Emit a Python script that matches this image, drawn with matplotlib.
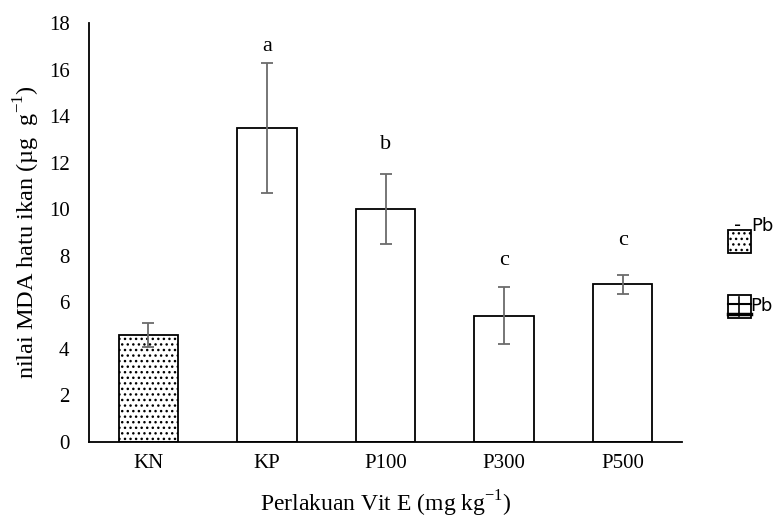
import matplotlib.pyplot as plt
from matplotlib.patches import Rectangle

plt.rcParams['font.family'] = ['Liberation Serif', 'DejaVu Serif']
plt.rcParams['mathtext.fontset'] = 'custom'
plt.rcParams['mathtext.rm'] = 'Liberation Serif'
plt.rcParams['hatch.linewidth'] = 1.0

# data
groups = ['KN', 'KP', 'P100', 'P300', 'P500']
mda = [4.6, 13.5, 10.0, 5.43, 6.77]
err = [0.5, 2.8, 1.5, 1.22, 0.41]
letters = ['', 'a', 'b', 'c', 'c']
letter_y = [0, 17.0, 12.8, 7.8, 8.65]

fig = plt.figure(figsize=(7.79, 5.23), dpi=100)
ax = fig.add_axes([0.1143, 0.1549, 0.7612, 0.8011])

x = list(range(len(groups)))
bars = ax.bar(x, mda, width=0.5, color='white', edgecolor='black', linewidth=1.3, zorder=2)
bars[0].set_hatch('...')
ax.errorbar(x, mda, yerr=err, fmt='none', ecolor='#6b6b6b', elinewidth=1.3,
            capsize=4, capthick=1.3, zorder=3)

for xi, lab, ly in zip(x, letters, letter_y):
    if lab:
        ax.text(xi, ly, lab, ha='center', va='center', fontsize=16)

ax.set_xlim(-0.5, len(groups) - 0.5)
ax.set_ylim(0, 18)
ax.set_yticks(range(0, 19, 2))
ax.set_xticks(x)
ax.set_xticklabels(groups)
ax.tick_params(axis='both', length=0, labelsize=15)
ax.tick_params(axis='y', pad=14)
ax.tick_params(axis='x', pad=9)
for s in ['top', 'right']:
    ax.spines[s].set_visible(False)
for s in ['left', 'bottom']:
    ax.spines[s].set_linewidth(1.3)
    ax.spines[s].set_color('black')

ax.set_xlabel('Perlakuan Vit E (mg kg$^{\\mathregular{-1}}$)', fontsize=17, labelpad=11)
ax.set_ylabel('nilai MDA hatu ikan (µg  g$^{\\mathregular{-1}}$)', fontsize=17.5, labelpad=5)

# legend drawn by hand, like the original
W, H = 779, 523
def box(x0, y0, hatch):
    r = Rectangle((x0 / W, 1 - (y0 + 23) / H), 23 / W, 23 / H, transform=fig.transFigure,
                  facecolor='white', edgecolor='black', linewidth=1.3, hatch=hatch, zorder=1)
    fig.add_artist(r)

box(728, 230, '...')
fig.text(734 / W, 1 - 225 / H, '-', fontsize=14, family='DejaVu Sans', va='center', zorder=5)
fig.text(751 / W, 1 - 226 / H, 'Pb', fontsize=13, family='DejaVu Sans', va='center', zorder=5)
box(728, 295, None)
fig.add_artist(plt.Line2D([728 / W, 751 / W], [1 - 304 / H] * 2, transform=fig.transFigure, color='black', lw=1.5))
fig.add_artist(plt.Line2D([728 / W, 751 / W], [1 - 314 / H] * 2, transform=fig.transFigure, color='black', lw=2.5))
fig.add_artist(plt.Line2D([739 / W] * 2, [1 - 297 / H, 1 - 316 / H], transform=fig.transFigure, color='black', lw=1.2))
fig.text(750 / W, 1 - 306 / H, 'Pb', fontsize=13, family='DejaVu Sans', va='center')

fig.savefig('out.png', dpi=100)
